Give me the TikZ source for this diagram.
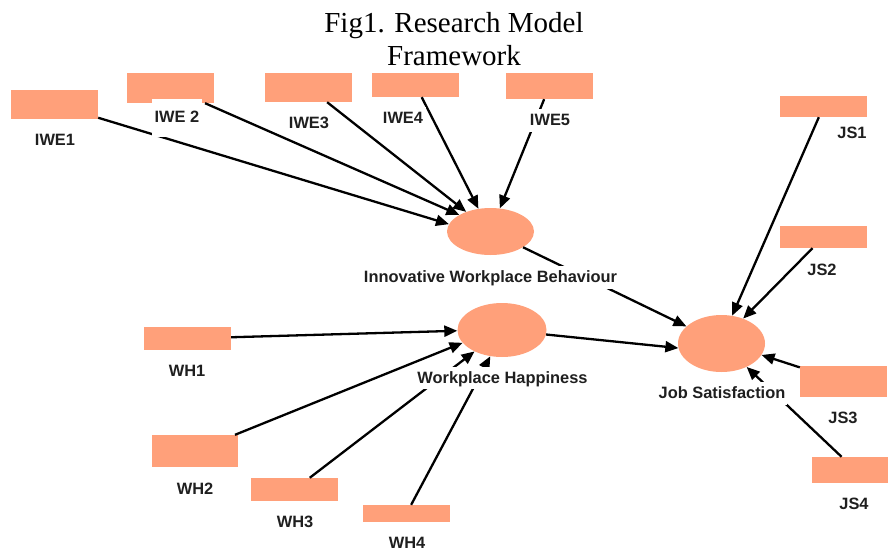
\documentclass[tikz,border=0pt]{standalone}
\usepackage{fontspec}
\setmainfont{Liberation Serif}
\newfontfamily\lblfont{Liberation Sans}
\usetikzlibrary{shapes.geometric,arrows.meta}
\definecolor{salmonfill}{HTML}{FFA07A}
\begin{document}
\begin{tikzpicture}[x=1pt,y=-1pt,
  ind/.style={rectangle,fill=salmonfill,inner sep=0pt},
  lat/.style={ellipse,fill=salmonfill,inner sep=0pt},
  lbl/.style={fill=white,inner xsep=3pt,inner ysep=3pt,text height=13.5pt,text depth=3pt,
    font=\lblfont\bfseries\fontsize{16.4}{18}\selectfont,text=black!88},
  link/.style={line width=2.3pt,-{Triangle[length=13pt,width=11pt]}}]
\useasboundingbox (0,0) rectangle (888,551);
\clip (0,0) rectangle (888,551);

% title
\node[anchor=north,inner sep=0pt,align=center,font=\fontsize{29}{33}\selectfont] (title) at (454,12.4) {Fig1. Research Model\\Framework};

% indicator boxes
\node[ind,minimum width=87pt,minimum height=29pt] (iwe1) at (54.5,104.5) {};
\node[ind,minimum width=87pt,minimum height=30pt] (iwe2) at (170.5,88) {};
\node[ind,minimum width=87pt,minimum height=29pt] (iwe3) at (308.5,87.5) {};
\node[ind,minimum width=87pt,minimum height=24pt] (iwe4) at (415.5,85) {};
\node[ind,minimum width=87pt,minimum height=26pt] (iwe5) at (549.5,86) {};
\node[ind,minimum width=87pt,minimum height=21pt] (js1) at (823.5,106.5) {};
\node[ind,minimum width=87pt,minimum height=22pt] (js2) at (823.5,237) {};
\node[ind,minimum width=87pt,minimum height=31pt] (js3) at (843.5,381.5) {};
\node[ind,minimum width=87pt,minimum height=26pt] (js4) at (855.5,470) {};
\node[ind,minimum width=87pt,minimum height=23pt] (wh1) at (187.5,338.5) {};
\node[ind,minimum width=86pt,minimum height=32pt] (wh2) at (195,451) {};
\node[ind,minimum width=87pt,minimum height=23pt] (wh3) at (294.5,489.5) {};
\node[ind,minimum width=87pt,minimum height=17pt] (wh4) at (406.5,513.5) {};

% latent variables
\node[lat,minimum width=87pt,minimum height=47pt] (iwb) at (490.5,231.5) {};
\node[lat,minimum width=89pt,minimum height=54pt] (wh) at (502,330) {};
\node[lat,minimum width=87pt,minimum height=57pt] (js) at (721.5,343.5) {};

% connectors
\draw[link] (iwe1) -- (iwb.170);
\draw[link] (iwe2) -- (iwb.152);
\draw[link] (iwe3) -- (iwb.141);
\draw[link] (iwe4) -- (iwb.118);
\draw[link] (iwe5) -- (iwb.68);
\draw[link] (js1) -- (js.69);
\draw[link] (js2) -- (js.49);
\draw[link] (js3) -- (js.-16);
\draw[link] (js4) -- (js.-43);
\draw[link] (iwb) -- (js.154);
\draw[link] (wh) -- (js.186);
\draw[link] (wh1) -- (wh.181);
\draw[link] (wh2) -- (wh.198);
\draw[link] (wh3) -- (wh.218);
\draw[link] (wh4) -- (wh.246);

% labels
\node[lbl] (liwe1) at (55,140) {IWE1};
\node[lbl,minimum width=50pt,minimum height=38pt] (liwe2) at (177,117.5) {IWE 2};
\node[lbl] (liwe3) at (309,123.7) {IWE3};
\node[lbl] (liwe4) at (403,118.7) {IWE4};
\node[lbl] (liwe5) at (550,120.7) {IWE5};
\node[lbl] (ljs1) at (852,133) {JS1};
\node[lbl] (ljs2) at (822,270.5) {JS2};
\node[lbl] (ljs3) at (843,418.5) {JS3};
\node[lbl] (ljs4) at (854,504.5) {JS4};
\node[lbl] (lwh1) at (187,371.5) {WH1};
\node[lbl] (lwh2) at (195,489.5) {WH2};
\node[lbl] (lwh3) at (295,522.5) {WH3};
\node[lbl] (lwh4) at (407,543.5) {WH4};
\node[lbl] (liwb) at (490.5,277.5) {Innovative Workplace Behaviour};
\node[lbl] (lwh) at (502.5,378) {Workplace Happiness};
\node[lbl,inner xsep=1.5pt] (ljs) at (722,393.5) {Job Satisfaction};
\end{tikzpicture}
\end{document}
